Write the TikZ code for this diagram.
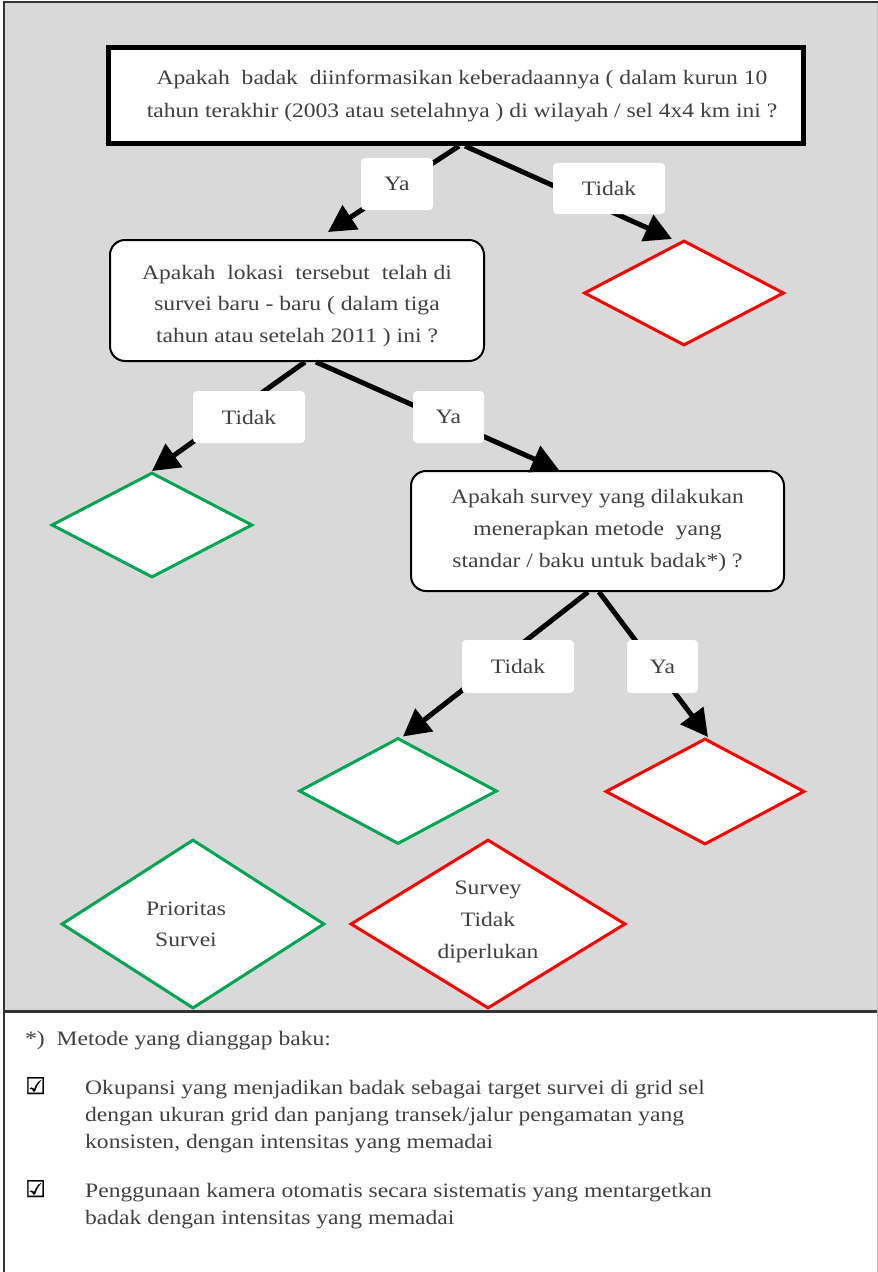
\documentclass[tikz,border=0pt]{standalone}
\usepackage{fontspec}
\setmainfont{Liberation Serif}[FakeStretch=1.15]
\newfontfamily\symfont{DejaVu Sans}[FakeBold=1.5]
\usetikzlibrary{arrows.meta,shapes.geometric}
\definecolor{bg}{HTML}{D9D9D9}
\definecolor{txt}{HTML}{404040}
\definecolor{dgreen}{HTML}{00A651}
\definecolor{dred}{HTML}{FF0000}
\tikzset{
  mainfont/.style={font=\fontsize{20.5}{33}\selectfont},
  qbox/.style={draw=black, fill=white, rectangle, align=center, inner sep=0pt, text=txt, mainfont},
  topq/.style={qbox, line width=5pt},
  roundq/.style={qbox, line width=2pt, rounded corners=15pt},
  lbl/.style={fill=white, rounded corners=4pt, inner sep=0pt, text=txt, mainfont},
  dia/.style={diamond, fill=white, line width=3pt, inner sep=0pt, text=txt, align=center},
  gdia/.style={dia, draw=dgreen},
  rdia/.style={dia, draw=dred},
  arr/.style={draw=black, line width=5pt, -{Triangle[length=27pt,width=28pt]}},
  foot/.style={text=txt, align=left, inner sep=0pt, font=\fontsize{20.5}{27}\selectfont},
  chk/.style={text=black, inner sep=0pt, font=\symfont\fontsize{23}{27}\selectfont},
}
\begin{document}
\begin{tikzpicture}[x=1pt,y=-1pt]
\useasboundingbox (0,0) rectangle (878,1272);
% frame
\fill[bg] (4,3) rectangle (878,1011);
\draw[line width=2pt,black!80] (4,1272) -- (4,2) -- (878,2);
\draw[line width=2.5pt,black!80] (4,1011.5) -- (878,1011.5);
\draw[line width=1pt,black!25] (877.5,3) -- (877.5,1272);

% question boxes
\node[topq, minimum width=695pt, minimum height=96pt] (q1) at (456,95.5)
  {\hspace*{12pt}Apakah\ \ badak\ \ diinformasikan keberadaannya ( dalam kurun 10\\
   \hspace*{12pt}tahun terakhir (2003 atau setelahnya ) di wilayah / sel 4x4 km ini ?};
\node[roundq, minimum width=374pt, minimum height=121pt, font=\fontsize{20.5}{31.5}\selectfont] (q2) at (297,300.5)
  {\rule{0pt}{24.5pt}Apakah\ \ lokasi\ \ tersebut\ \ telah di\\
   survei baru - baru ( dalam tiga\\
   tahun atau setelah 2011 ) ini ?};
\node[roundq, minimum width=373pt, minimum height=120pt, font=\fontsize{20.5}{32}\selectfont] (q3) at (597.5,531)
  {Apakah survey yang dilakukan\\
   menerapkan metode\ \ yang\\
   standar / baku untuk badak*) ?};

% diamonds
\node[rdia, minimum width=200pt, minimum height=105pt] (d1) at (684,293) {};
\node[gdia, minimum width=201pt, minimum height=105pt] (d2) at (152,525) {};
\node[gdia, minimum width=198pt, minimum height=106pt] (d3) at (398,791) {};
\node[rdia, minimum width=199pt, minimum height=106pt] (d4) at (705,791.5) {};
\node[gdia, minimum width=263pt, minimum height=169pt] (d5) at (193,924) {};
\node[rdia, minimum width=275pt, minimum height=169pt] (d6) at (488,924) {};
\node[text=txt, align=center, font=\fontsize{20.5}{31}\selectfont] (t5) at (186,924) {Prioritas\\Survei};
\node[text=txt, align=center, font=\fontsize{20.5}{32}\selectfont] (t6) at (488,922) {Survey\\Tidak\\diperlukan};

% arrows
\draw[arr] ([xshift=3pt]q1.south) -- ([xshift=31pt,yshift=7pt]q2.north);
\draw[arr] ([xshift=9pt]q1.south) -- ([xshift=-12pt]d1.north);
\draw[arr] ([xshift=8pt]q2.south) -- (d2.north);
\draw[arr] ([xshift=19pt]q2.south) -- ([xshift=-38.5pt]q3.north);
\draw[arr] ([xshift=-9.5pt]q3.south) -- ([xshift=5pt]d3.north);
\draw[arr] ([xshift=1.5pt]q3.south) -- ([xshift=3pt]d4.north);

% labels
\node[lbl, minimum width=72pt, minimum height=52pt] (ya1) at (397,184) {Ya};
\node[lbl, minimum width=112pt, minimum height=51pt] (no1) at (609,188.5) {Tidak};
\node[lbl, minimum width=112pt, minimum height=52pt] (no2) at (249,417) {Tidak};
\node[lbl, minimum width=71pt, minimum height=52pt] (ya2) at (448.5,417) {Ya};
\node[lbl, minimum width=112pt, minimum height=53pt] (no3) at (518,666.5) {Tidak};
\node[lbl, minimum width=71pt, minimum height=53pt] (ya3) at (662.5,666.5) {Ya};

% footnote
\node[foot, anchor=base west] (fn) at (25,1045) {*)\ \ Metode yang dianggap baku:};
\node[chk, anchor=base west] (cb1) at (25,1094) {☑};
\node[foot, anchor=base west] (it1a) at (85,1094) {Okupansi yang menjadikan badak sebagai target survei di grid sel};
\node[foot, anchor=base west] (it1b) at (85,1121) {dengan ukuran grid dan panjang transek/jalur pengamatan yang};
\node[foot, anchor=base west] (it1c) at (85,1148) {konsisten, dengan intensitas yang memadai};
\node[chk, anchor=base west] (cb2) at (25,1197) {☑};
\node[foot, anchor=base west] (it2a) at (85,1197) {Penggunaan kamera otomatis secara sistematis yang mentargetkan};
\node[foot, anchor=base west] (it2b) at (85,1224) {badak dengan intensitas yang memadai};
\end{tikzpicture}
\end{document}
